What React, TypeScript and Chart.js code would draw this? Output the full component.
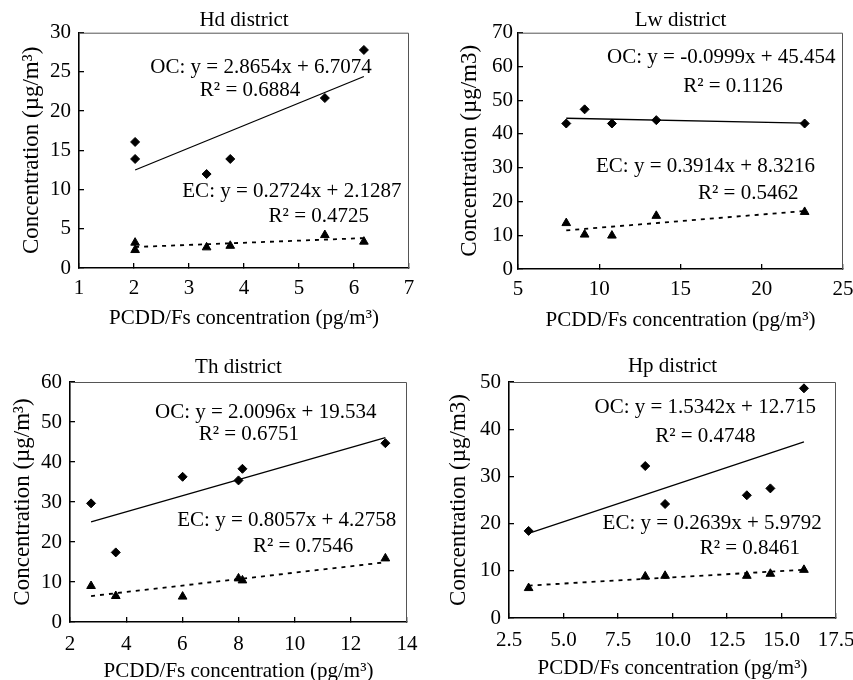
import React, { useEffect, useRef } from "react";
import { Chart, registerables } from "chart.js";

Chart.register(...registerables);

const FONT_FAMILY = "'Liberation Serif', 'Times New Roman', Times, serif";
const FONT_SIZE = 21;
const Y_TITLE_SIZE = 23;

// ---- data ----
const districts = ["Hd district", "Lw district", "Th district", "Hp district"];

const hdPcdd = [2.02, 2.02, 3.32, 3.75, 5.47, 6.18];
const hdOC = [16.07, 13.9, 11.98, 13.9, 21.67, 27.8];
const hdEC = [3.23, 2.29, 2.63, 2.83, 4.2, 3.36];

const lwPcdd = [7.97, 9.1, 10.78, 13.51, 22.64];
const lwOC = [43.1, 47.3, 43.1, 44.1, 43.1];
const lwEC = [13.6, 10.2, 9.9, 15.75, 16.9];

const thPcdd = [2.75, 3.63, 6.01, 8.0, 8.14, 13.23];
const thOC = [29.66, 17.4, 36.3, 35.4, 38.3, 44.7];
const thEC = [9.0, 6.5, 6.35, 10.9, 10.4, 15.9];

const hpPcdd = [3.4, 8.75, 9.66, 13.41, 14.49, 16.03];
const hpOC = [18.45, 32.2, 24.15, 26.0, 27.46, 48.66];
const hpEC = [6.34, 8.8, 8.94, 8.94, 9.37, 10.2];

const ocSlope = [2.8654, -0.0999, 2.0096, 1.5342];
const ocIntercept = [6.7074, 45.454, 19.534, 12.715];
const ocR2 = [0.6884, 0.1126, 0.6751, 0.4748];
const ecSlope = [0.2724, 0.3914, 0.8057, 0.2639];
const ecIntercept = [2.1287, 8.3216, 4.2758, 5.9792];
const ecR2 = [0.4725, 0.5462, 0.7546, 0.8461];

const xMin = [1, 5, 2, 2.5];
const xMax = [7, 25, 14, 17.5];
const xStep = [1, 5, 2, 2.5];
const xDecimals = [0, 0, 0, 1];
const yMax = [30, 70, 60, 50];
const yStep = [5, 10, 10, 10];

const yTitles = [
  "Concentration (µg/m³)",
  "Concentration (µg/m3)",
  "Concentration (µg/m³)",
  "Concentration (µg/m3)",
];
const xTitle = "PCDD/Fs concentration (pg/m³)";

const pcddSets = [hdPcdd, lwPcdd, thPcdd, hpPcdd];
const ocSets = [hdOC, lwOC, thOC, hpOC];
const ecSets = [hdEC, lwEC, thEC, hpEC];

// ---- layout (positions / sizes only) ----
type PanelLayout = {
  left: number;
  top: number;
  width: number;
  height: number;
  yAxisWidth: number;
  xAxisHeight: number;
  padRight: number;
  titleTop: number;
  titleBottom: number;
  yTitlePad: number;
  xTitlePad: number;
  yTickPad: number;
  xTickPad: number;
  // annotation anchor points in data coordinates: [ocEq, ocR2, ecEq, ecR2]
  notes: [number, number][];
};

const layouts: PanelLayout[] = [
  {
    left: 0, top: 0, width: 426, height: 340,
    yAxisWidth: 79, xAxisHeight: 72, padRight: 17,
    titleTop: 7.5, titleBottom: 0, yTitlePad: 17.8, xTitlePad: 9.4,
    yTickPad: 13, xTickPad: 13,
    notes: [[4.31, 25.55], [4.11, 22.6], [4.87, 9.7], [5.36, 6.52]],
  },
  {
    left: 426, top: 0, width: 427, height: 340,
    yAxisWidth: 92, xAxisHeight: 71, padRight: 10,
    titleTop: 7.5, titleBottom: 0, yTitlePad: 30.5, xTitlePad: 7.4,
    yTickPad: 10, xTickPad: 13,
    notes: [[17.51, 62.6], [18.23, 54.15], [16.54, 30.3], [19.17, 22.25]],
  },
  {
    left: 0, top: 340, width: 426, height: 350,
    yAxisWidth: 70, xAxisHeight: 68, padRight: 19,
    titleTop: 14.7, titleBottom: 2.1, yTitlePad: 9.5, xTitlePad: 5.7,
    yTickPad: 13, xTickPad: 14.7,
    notes: [[8.97, 52.4], [8.37, 46.8], [9.72, 25.5], [10.3, 18.96]],
  },
  {
    left: 426, top: 340, width: 427, height: 350,
    yAxisWidth: 83, xAxisHeight: 72, padRight: 17,
    titleTop: 13.4, titleBottom: 3.4, yTitlePad: 19.5, xTitlePad: 9.1,
    yTickPad: 13, xTickPad: 14.7,
    notes: [[11.5, 44.58], [11.51, 38.5], [11.82, 20.07], [13.55, 14.65]],
  },
];

const font = { family: FONT_FAMILY, size: FONT_SIZE, lineHeight: 1.2 };
const yTitleFont = { family: FONT_FAMILY, size: Y_TITLE_SIZE, lineHeight: 1.2 };

const boxPlugin = {
  id: "plotBox",
  afterDraw(chart: any) {
    const { ctx, chartArea } = chart;
    ctx.save();
    ctx.strokeStyle = "#555";
    ctx.lineWidth = 1;
    ctx.beginPath();
    ctx.moveTo(chartArea.left, chartArea.top + 0.5);
    ctx.lineTo(chartArea.right - 0.5, chartArea.top + 0.5);
    ctx.lineTo(chartArea.right - 0.5, chartArea.bottom);
    ctx.stroke();
    ctx.restore();
  },
};

const notesPlugin = {
  id: "eqNotes",
  afterDatasetsDraw(chart: any, _args: any, opts: any) {
    const { ctx, scales } = chart;
    ctx.save();
    ctx.fillStyle = "#000";
    ctx.font = `${FONT_SIZE}px ${FONT_FAMILY}`;
    ctx.textAlign = "center";
    ctx.textBaseline = "middle";
    (opts.items || []).forEach((it: any) => {
      ctx.fillText(it.text, scales.x.getPixelForValue(it.x), scales.y.getPixelForValue(it.y));
    });
    ctx.restore();
  },
};

function eqText(name: string, a: number, b: number) {
  return `${name}: y = ${String(a)}x + ${String(b)}`;
}

function Panel({ idx }: { idx: number }) {
  const ref = useRef<HTMLCanvasElement | null>(null);
  const L = layouts[idx];

  useEffect(() => {
    if (!ref.current) return;
    const xs = pcddSets[idx];
    const oc = ocSets[idx];
    const ec = ecSets[idx];
    const lo = Math.min(...xs);
    const hi = Math.max(...xs);
    const fit = (a: number, b: number) => [
      { x: lo, y: a * lo + b },
      { x: hi, y: a * hi + b },
    ];
    const texts = [
      eqText("OC", ocSlope[idx], ocIntercept[idx]),
      `R² = ${String(ocR2[idx])}`,
      eqText("EC", ecSlope[idx], ecIntercept[idx]),
      `R² = ${String(ecR2[idx])}`,
    ];
    const items = texts.map((t, i) => ({ text: t, x: L.notes[i][0], y: L.notes[i][1] }));

    const chart = new Chart(ref.current, {
      type: "scatter",
      data: {
        datasets: [
          {
            label: "OC",
            data: xs.map((x, i) => ({ x, y: oc[i] })),
            pointStyle: "rectRot",
            pointRadius: 4.5,
            backgroundColor: "#000",
            borderColor: "#000",
            borderWidth: 1,
          },
          {
            label: "EC",
            data: xs.map((x, i) => ({ x, y: ec[i] })),
            pointStyle: "triangle",
            pointRadius: 5,
            backgroundColor: "#000",
            borderColor: "#000",
            borderWidth: 1,
          },
          {
            label: "OC fit",
            data: fit(ocSlope[idx], ocIntercept[idx]),
            showLine: true,
            pointRadius: 0,
            borderColor: "#000",
            borderWidth: 1.3,
          },
          {
            label: "EC fit",
            data: fit(ecSlope[idx], ecIntercept[idx]),
            showLine: true,
            pointRadius: 0,
            borderColor: "#000",
            borderWidth: 1.8,
            borderDash: [4, 5],
          },
        ],
      } as any,
      options: {
        animation: false,
        responsive: false,
        layout: { padding: { left: 0, top: 0, right: L.padRight, bottom: 0 } },
        plugins: {
          legend: { display: false },
          tooltip: { enabled: false },
          title: {
            display: true,
            fullSize: false,
            text: districts[idx],
            color: "#000",
            font: { ...font, weight: "normal" },
            padding: { top: L.titleTop, bottom: L.titleBottom },
          },
          eqNotes: { items },
        } as any,
        scales: {
          x: {
            type: "linear",
            min: xMin[idx],
            max: xMax[idx],
            ticks: {
              stepSize: xStep[idx],
              color: "#000",
              font,
              padding: L.xTickPad,
              maxRotation: 0,
              autoSkip: false,
              callback: (v: any) => Number(v).toFixed(xDecimals[idx]),
            },
            grid: {
              display: true,
              drawOnChartArea: false,
              drawTicks: true,
              tickLength: -5,
              color: "#000",
              lineWidth: 1.3,
            },
            border: { display: true, color: "#000", width: 1.6 },
            title: {
              display: true,
              text: xTitle,
              color: "#000",
              font,
              padding: { top: 0, bottom: L.xTitlePad },
            },
            afterFit: (s: any) => {
              s.height = L.xAxisHeight;
              s.paddingLeft = 0;
              s.paddingRight = 0;
            },
          },
          y: {
            type: "linear",
            min: 0,
            max: yMax[idx],
            ticks: {
              stepSize: yStep[idx],
              color: "#000",
              font,
              padding: L.yTickPad,
            },
            grid: {
              display: true,
              drawOnChartArea: false,
              drawTicks: true,
              tickLength: -5,
              color: "#000",
              lineWidth: 1.3,
            },
            border: { display: true, color: "#000", width: 1.6 },
            title: {
              display: true,
              text: yTitles[idx],
              color: "#000",
              font: yTitleFont,
              padding: { top: L.yTitlePad, bottom: 0 },
            },
            afterFit: (s: any) => {
              s.width = L.yAxisWidth;
              s.paddingTop = 0;
              s.paddingBottom = 0;
            },
          },
        } as any,
      },
      plugins: [boxPlugin, notesPlugin],
    });
    return () => chart.destroy();
  }, [idx]);

  return (
    <canvas
      ref={ref}
      width={L.width}
      height={L.height}
      style={{
        position: "absolute",
        left: L.left,
        top: L.top,
        width: L.width,
        height: L.height,
      }}
    />
  );
}

export default function App() {
  return (
    <div
      style={{
        position: "fixed",
        left: 0,
        top: 0,
        width: 853,
        height: 680,
        overflow: "hidden",
        background: "#fff",
      }}
    >
      {layouts.map((_, i) => (
        <Panel key={i} idx={i} />
      ))}
    </div>
  );
}
